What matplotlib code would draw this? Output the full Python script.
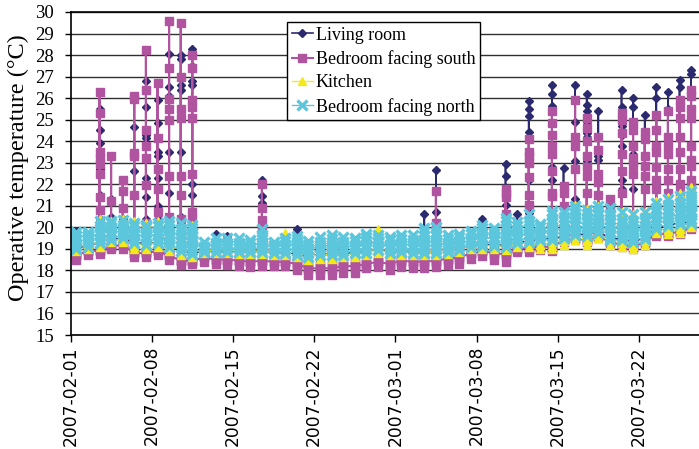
import matplotlib
matplotlib.use('Agg')
import matplotlib.pyplot as plt
import pandas as pd

# one list per day (2007-02-01 ... 2007-03-26), values in degC
living = [
    [19.05, 18.95, 19.3, 19.85, 19.05],
    [19.15, 19.05, 19.4, 19.15],
    [19.3, 19.2, 19.5, 20.4, 21.5, 22.7, 23.9, 24.5, 25.5, 19.3],
    [19.45, 19.35, 19.7, 20.5, 21.3, 19.45],
    [19.5, 19.45, 19.8, 20.4, 19.5],
    [19.3, 19.2, 19.5, 22.6, 24.65, 19.3],
    [19.25, 19.15, 19.5, 20.4, 21.4, 22.3, 24.15, 24.3, 25.6, 26.8, 19.25],
    [19.3, 19.2, 19.5, 20.4, 20.97, 22.3, 23.3, 23.5, 24.85, 25.9, 19.3],
    [19.15, 19.05, 19.4, 21.6, 23.5, 26.1, 26.5, 28.05, 19.15],
    [18.95, 18.85, 19.2, 20.5, 23.5, 26.4, 26.6, 27.8, 28.0, 18.95],
    [18.8, 18.7, 19.0, 21.5, 22.0, 26.6, 26.8, 27.5, 28.3, 18.8],
    [18.9, 18.8, 19.1, 18.9],
    [18.9, 18.8, 19.2, 19.67, 18.9],
    [18.9, 18.8, 19.2, 19.6, 18.9],
    [18.9, 18.8, 19.2, 18.9],
    [18.9, 18.8, 19.1, 18.9],
    [18.9, 18.8, 19.3, 21.15, 21.45, 22.2, 18.9],
    [18.85, 18.75, 19.1, 18.85],
    [18.85, 18.75, 19.2, 18.85],
    [18.75, 18.65, 19.1, 19.75, 19.9, 18.75],
    [18.65, 18.55, 19.0, 18.65],
    [18.75, 18.65, 19.1, 18.75],
    [18.75, 18.65, 19.2, 18.75],
    [18.75, 18.65, 19.1, 18.75],
    [18.85, 18.75, 19.1, 18.85],
    [18.85, 18.75, 19.2, 18.85],
    [19.0, 18.9, 19.2, 19.0],
    [18.85, 18.75, 19.1, 18.85],
    [18.9, 18.8, 19.2, 18.9],
    [18.85, 18.75, 19.2, 18.85],
    [18.85, 18.75, 19.3, 20.6, 18.85],
    [18.85, 18.75, 19.3, 20.7, 22.67, 18.85],
    [18.9, 18.8, 19.2, 18.9],
    [19.0, 18.9, 19.3, 19.0],
    [19.15, 19.05, 19.4, 19.15],
    [19.2, 19.1, 19.5, 20.4, 19.2],
    [19.2, 19.1, 19.5, 19.2],
    [19.15, 19.05, 19.5, 21.05, 22.4, 22.95, 19.15],
    [19.3, 19.2, 19.6, 20.6, 19.3],
    [19.35, 19.25, 19.7, 20.65, 21.5, 22.2, 24.45, 25.15, 25.5, 25.85, 19.35],
    [19.45, 19.35, 19.7, 19.45],
    [19.5, 19.4, 19.8, 22.2, 22.8, 25.65, 26.2, 26.6, 19.5],
    [19.55, 19.45, 19.9, 22.75, 19.55],
    [19.7, 19.6, 20.0, 21.3, 23.1, 24.9, 26.6, 19.7],
    [19.65, 19.55, 19.9, 23.1, 24.2, 24.4, 24.9, 25.4, 25.7, 26.2, 19.65],
    [19.8, 19.7, 20.1, 23.15, 23.3, 23.5, 25.4, 19.8],
    [19.5, 19.4, 19.8, 21.1, 19.5],
    [19.45, 19.35, 19.8, 21.8, 22.2, 23.8, 24.3, 24.7, 25.6, 26.4, 19.45],
    [19.35, 19.25, 19.7, 21.8, 22.5, 22.85, 23.4, 25.6, 26.0, 19.35],
    [19.5, 19.4, 19.8, 21.8, 25.2, 19.5],
    [19.95, 19.85, 20.2, 22.0, 26.0, 26.5, 19.95],
    [20.1, 20.0, 20.4, 23.4, 25.5, 26.3, 20.1],
    [20.2, 20.1, 20.5, 22.7, 26.5, 26.85, 20.2],
    [20.25, 20.15, 20.6, 26.2, 27.1, 27.3, 20.25],
]

south = [
    [18.7, 18.5, 18.7, 18.85, 18.7],
    [18.9, 18.7, 18.9, 19.1, 18.9],
    [18.9, 18.75, 18.95, 19.2, 20.8, 21.4, 22.5, 22.95, 23.2, 23.5, 25.3, 26.3, 18.9],
    [19.1, 19.0, 19.15, 19.3, 21.2, 23.3, 19.1],
    [19.2, 19.0, 19.2, 19.4, 20.9, 21.7, 22.2, 19.2],
    [18.8, 18.6, 18.8, 19.0, 21.5, 23.3, 23.45, 25.95, 26.1, 18.8],
    [18.8, 18.6, 18.8, 18.95, 20.2, 21.95, 23.2, 23.8, 24.5, 26.4, 28.25, 18.8],
    [18.9, 18.7, 18.9, 19.15, 20.7, 21.8, 22.7, 24.15, 26.7, 18.9],
    [18.7, 18.5, 18.7, 18.85, 20.5, 22.4, 25.0, 25.5, 25.95, 27.4, 29.6, 18.7],
    [18.45, 18.25, 18.45, 18.65, 20.4, 21.5, 22.4, 25.1, 25.5, 27.0, 29.5, 18.45],
    [18.45, 18.3, 18.45, 18.6, 20.4, 20.7, 22.5, 25.1, 25.6, 25.9, 27.4, 28.0, 18.45],
    [18.6, 18.4, 18.6, 18.85, 18.6],
    [18.5, 18.3, 18.5, 18.7, 18.5],
    [18.5, 18.25, 18.45, 18.7, 18.5],
    [18.45, 18.2, 18.45, 18.7, 18.45],
    [18.4, 18.15, 18.4, 18.65, 18.4],
    [18.45, 18.2, 18.45, 18.7, 19.97, 20.35, 20.9, 22.0, 18.45],
    [18.4, 18.2, 18.4, 18.65, 18.4],
    [18.4, 18.2, 18.4, 18.65, 18.4],
    [18.3, 18.0, 18.2, 18.4, 18.6, 18.3],
    [18.1, 17.8, 18.0, 18.2, 18.5, 18.1],
    [18.1, 17.8, 18.0, 18.2, 18.4, 18.1],
    [18.1, 17.8, 18.0, 18.2, 18.5, 18.1],
    [18.2, 17.9, 18.1, 18.3, 18.5, 18.2],
    [18.2, 17.9, 18.1, 18.3, 18.5, 18.2],
    [18.3, 18.1, 18.3, 18.55, 18.3],
    [18.4, 18.15, 18.4, 18.6, 18.4],
    [18.3, 18.0, 18.2, 18.45, 18.65, 18.3],
    [18.45, 18.15, 18.35, 18.55, 18.8, 18.45],
    [18.4, 18.1, 18.3, 18.5, 18.7, 18.4],
    [18.4, 18.1, 18.3, 18.5, 18.7, 18.4],
    [18.45, 18.15, 18.35, 18.55, 18.8, 20.2, 21.7, 18.45],
    [18.55, 18.25, 18.45, 18.65, 18.85, 18.55],
    [18.6, 18.3, 18.5, 18.7, 18.95, 18.6],
    [18.8, 18.55, 18.75, 19.0, 18.8],
    [18.9, 18.65, 18.85, 19.15, 18.9],
    [18.8, 18.5, 18.7, 18.9, 19.1, 18.8],
    [18.75, 18.4, 18.6, 18.8, 19.1, 20.6, 21.4, 21.6, 21.8, 18.75],
    [19.0, 18.85, 19.0, 19.15, 19.0],
    [19.05, 18.85, 19.05, 19.3, 21.05, 21.5, 22.35, 23.0, 23.3, 23.5, 24.1, 19.05],
    [19.1, 18.95, 19.1, 19.25, 19.1],
    [19.1, 18.9, 19.05, 19.2, 21.45, 21.6, 22.6, 23.4, 23.8, 24.3, 24.85, 25.4, 19.1],
    [19.4, 19.3, 19.45, 21.0, 21.6, 21.9, 19.4],
    [19.5, 19.4, 19.55, 22.7, 23.8, 24.2, 25.9, 19.5],
    [19.4, 19.3, 19.45, 21.6, 22.4, 22.8, 23.3, 24.0, 24.6, 25.1, 19.4],
    [19.6, 19.5, 19.65, 21.5, 22.1, 22.5, 23.6, 24.2, 19.6],
    [19.3, 19.2, 19.35, 20.5, 21.0, 21.3, 19.3],
    [19.2, 19.1, 19.25, 21.6, 22.6, 23.4, 24.4, 25.0, 25.3, 19.2],
    [19.1, 19.0, 19.15, 22.5, 22.9, 23.2, 23.8, 24.5, 24.9, 19.1],
    [19.3, 19.2, 19.35, 21.8, 22.4, 22.85, 23.3, 24.1, 24.45, 19.3],
    [19.7, 19.6, 19.75, 21.8, 22.2, 22.8, 23.5, 23.8, 24.5, 25.2, 19.7],
    [19.7, 19.6, 19.75, 21.6, 22.2, 22.7, 23.4, 23.8, 24.2, 25.4, 19.7],
    [19.8, 19.7, 19.85, 21.6, 22.0, 22.7, 23.5, 24.2, 25.1, 25.6, 25.9, 19.8],
    [20.0, 19.9, 20.05, 21.9, 22.2, 22.85, 23.15, 23.8, 25.1, 25.5, 26.1, 26.4, 20.0],
]

kitchen = [
    [19.1, 18.9, 19.05, 19.2, 19.3, 19.1],
    [19.2, 19.0, 19.15, 19.3, 19.4, 19.2],
    [19.3, 19.1, 19.25, 19.4, 20.1, 20.4, 19.3],
    [19.4, 19.3, 19.45, 19.6, 20.3, 19.4],
    [19.4, 19.3, 19.45, 19.6, 20.4, 19.4],
    [19.2, 19.0, 19.15, 19.3, 20.3, 19.2],
    [19.2, 19.0, 19.15, 19.3, 20.2, 19.2],
    [19.3, 19.1, 19.25, 19.4, 20.3, 19.3],
    [19.1, 18.9, 19.05, 19.2, 20.0, 20.15, 19.1],
    [19.0, 18.7, 18.85, 19.0, 19.95, 20.1, 19.0],
    [18.9, 18.6, 18.75, 18.9, 19.9, 20.1, 18.9],
    [18.9, 18.8, 18.9, 19.0, 18.9],
    [18.95, 18.8, 18.95, 19.1, 18.95],
    [18.95, 18.8, 18.95, 19.1, 18.95],
    [18.9, 18.75, 18.9, 19.1, 18.9],
    [18.9, 18.75, 18.9, 19.0, 18.9],
    [18.9, 18.75, 18.9, 19.05, 19.5, 18.9],
    [18.85, 18.7, 18.85, 19.0, 18.85],
    [18.9, 18.7, 18.85, 19.0, 19.75, 18.9],
    [18.8, 18.6, 18.75, 18.9, 19.3, 18.8],
    [18.7, 18.5, 18.65, 18.8, 18.9, 18.7],
    [18.7, 18.55, 18.7, 18.85, 19.0, 18.7],
    [18.75, 18.55, 18.7, 18.85, 19.1, 18.75],
    [18.75, 18.6, 18.75, 18.9, 19.1, 18.75],
    [18.75, 18.6, 18.75, 18.9, 19.0, 18.75],
    [18.85, 18.7, 18.85, 19.0, 19.2, 18.85],
    [18.95, 18.8, 18.95, 19.1, 19.9, 18.95],
    [18.85, 18.7, 18.85, 19.0, 19.1, 18.85],
    [18.85, 18.7, 18.85, 19.0, 19.2, 18.85],
    [18.85, 18.7, 18.85, 19.0, 19.2, 18.85],
    [18.85, 18.7, 18.85, 19.0, 19.4, 18.85],
    [18.85, 18.7, 18.85, 19.0, 19.5, 18.85],
    [18.9, 18.75, 18.9, 19.05, 19.2, 18.9],
    [19.0, 18.85, 19.0, 19.15, 19.3, 19.0],
    [19.15, 19.0, 19.15, 19.3, 19.4, 19.15],
    [19.15, 19.0, 19.15, 19.3, 19.6, 19.15],
    [19.15, 19.0, 19.15, 19.3, 19.5, 19.15],
    [19.1, 18.95, 19.1, 19.25, 20.0, 19.1],
    [19.25, 19.1, 19.25, 19.4, 19.8, 19.25],
    [19.25, 19.1, 19.25, 19.4, 20.2, 19.25],
    [19.2, 19.0, 19.2, 19.35, 19.55, 19.2],
    [19.3, 19.0, 19.15, 19.3, 19.45, 20.6, 19.3],
    [19.4, 19.2, 19.35, 19.5, 20.5, 19.4],
    [19.6, 19.4, 19.55, 19.7, 21.05, 19.6],
    [19.4, 19.2, 19.35, 19.5, 20.85, 19.4],
    [19.65, 19.5, 19.65, 19.8, 21.0, 19.65],
    [19.4, 19.2, 19.35, 19.5, 20.8, 19.4],
    [19.3, 19.1, 19.25, 19.4, 20.7, 19.3],
    [19.2, 19.0, 19.15, 19.3, 20.6, 19.2],
    [19.4, 19.2, 19.35, 19.5, 20.7, 19.4],
    [19.9, 19.75, 19.9, 20.05, 21.2, 19.9],
    [19.9, 19.7, 19.85, 20.0, 21.4, 19.9],
    [19.9, 19.75, 19.9, 20.05, 21.6, 19.9],
    [20.15, 20.0, 20.15, 20.3, 21.85, 20.15],
]

north = [
    [19.6, 19.0, 19.2, 19.4, 19.6, 19.8, 19.6],
    [19.6, 19.1, 19.3, 19.5, 19.7, 19.8, 19.6],
    [19.7, 19.25, 19.45, 19.65, 19.85, 20.05, 20.3, 19.8],
    [19.8, 19.4, 19.6, 19.8, 20.0, 20.2, 20.3, 19.8],
    [19.8, 19.5, 19.7, 19.9, 20.1, 20.35, 19.8],
    [19.7, 19.25, 19.45, 19.65, 19.85, 20.05, 20.2, 19.7],
    [19.6, 19.2, 19.4, 19.6, 19.8, 20.0, 20.1, 19.6],
    [19.7, 19.25, 19.45, 19.65, 19.85, 20.05, 20.2, 19.7],
    [19.6, 19.1, 19.3, 19.5, 19.7, 19.9, 20.1, 20.3, 19.6],
    [19.5, 18.9, 19.1, 19.3, 19.5, 19.7, 19.9, 20.2, 19.5],
    [19.4, 18.75, 18.95, 19.15, 19.35, 19.55, 19.75, 19.95, 20.1, 19.3],
    [19.1, 18.85, 19.05, 19.3, 19.1],
    [19.2, 18.85, 19.05, 19.25, 19.5, 19.2],
    [19.2, 18.85, 19.05, 19.25, 19.5, 19.2],
    [19.2, 18.85, 19.05, 19.25, 19.5, 19.2],
    [19.1, 18.85, 19.05, 19.25, 19.4, 19.1],
    [19.3, 18.85, 19.05, 19.25, 19.45, 19.65, 19.9, 19.2],
    [19.1, 18.8, 19.0, 19.2, 19.3, 19.1],
    [19.2, 18.8, 19.0, 19.2, 19.35, 19.5, 19.2],
    [19.2, 18.7, 18.9, 19.1, 19.3, 19.45, 19.6, 19.1],
    [19.0, 18.6, 18.8, 19.0, 19.2, 19.35, 19.0],
    [19.1, 18.7, 18.9, 19.1, 19.3, 19.55, 19.1],
    [19.2, 18.7, 18.9, 19.1, 19.3, 19.45, 19.65, 19.2],
    [19.1, 18.7, 18.9, 19.1, 19.3, 19.55, 19.1],
    [19.1, 18.8, 19.0, 19.2, 19.35, 19.5, 19.1],
    [19.2, 18.8, 19.0, 19.2, 19.4, 19.55, 19.7, 19.2],
    [19.3, 18.95, 19.15, 19.35, 19.5, 19.65, 19.3],
    [19.1, 18.8, 19.0, 19.2, 19.4, 19.55, 19.1],
    [19.2, 18.85, 19.05, 19.25, 19.45, 19.65, 19.2],
    [19.2, 18.8, 19.0, 19.2, 19.4, 19.65, 19.2],
    [19.3, 18.8, 19.0, 19.2, 19.4, 19.6, 19.8, 19.95, 19.3],
    [19.3, 18.8, 19.0, 19.2, 19.4, 19.6, 19.8, 20.0, 19.3],
    [19.2, 18.85, 19.05, 19.25, 19.45, 19.65, 19.2],
    [19.3, 18.95, 19.15, 19.35, 19.55, 19.7, 19.3],
    [19.4, 19.1, 19.3, 19.5, 19.7, 19.85, 19.4],
    [19.5, 19.15, 19.35, 19.55, 19.75, 19.95, 20.1, 19.5],
    [19.5, 19.15, 19.35, 19.55, 19.75, 19.95, 19.5],
    [19.6, 19.1, 19.3, 19.5, 19.7, 19.9, 20.1, 20.3, 20.45, 19.6],
    [19.6, 19.25, 19.45, 19.65, 19.85, 20.05, 20.25, 19.6],
    [19.7, 19.3, 19.5, 19.7, 19.9, 20.1, 20.3, 20.6, 19.7],
    [19.7, 19.4, 19.6, 19.8, 20.0, 20.15, 19.7],
    [19.9, 19.4, 19.6, 19.8, 20.0, 20.2, 20.4, 20.6, 20.75, 19.9],
    [19.9, 19.5, 19.7, 19.9, 20.1, 20.3, 20.5, 20.7, 19.9],
    [20.1, 19.65, 19.85, 20.05, 20.25, 20.45, 20.65, 20.85, 21.0, 20.1],
    [20.0, 19.6, 19.8, 20.0, 20.2, 20.4, 20.6, 20.8, 20.0],
    [20.1, 19.75, 19.95, 20.15, 20.35, 20.55, 20.75, 21.0, 20.1],
    [20.0, 19.4, 19.6, 19.8, 20.0, 20.2, 20.4, 20.6, 20.9, 20.0],
    [19.9, 19.4, 19.6, 19.8, 20.0, 20.2, 20.4, 20.7, 19.9],
    [19.8, 19.3, 19.5, 19.7, 19.9, 20.1, 20.3, 20.6, 19.8],
    [19.9, 19.45, 19.65, 19.85, 20.05, 20.25, 20.45, 20.7, 19.9],
    [20.3, 19.9, 20.1, 20.3, 20.5, 20.7, 20.9, 21.15, 20.3],
    [20.5, 20.05, 20.25, 20.45, 20.65, 20.85, 21.05, 21.3, 20.5],
    [20.6, 20.15, 20.35, 20.55, 20.75, 20.95, 21.15, 21.45, 20.6],
    [20.7, 20.2, 20.4, 20.6, 20.8, 21.0, 21.2, 21.45, 21.7, 20.7],
]

tick_labels = ['2007-02-01', '2007-02-08', '2007-02-15', '2007-02-22',
               '2007-03-01', '2007-03-08', '2007-03-15', '2007-03-22']

# every reading of a day sits on that day's date (date axis, one slot per day)
days = pd.date_range('2007-02-01 12:00', periods=len(living), freq='D')


def flatten(series):
    xs, ys = [], []
    for d, vals in zip(days, series):
        xs += [d] * len(vals)
        ys += vals
    return xs, ys


serif = 'Liberation Serif'

fig = plt.figure(figsize=(6.99, 4.49), dpi=100)
ax = fig.add_axes([70.5 / 699, 1 - 335 / 449, 1 - 70.5 / 699, 323 / 449])

x, y = flatten(living)
ax.plot(x, y, color='#2b2a6e', lw=1.2, marker='D', ms=3.8, label='Living room')
x, y = flatten(south)
ax.plot(x, y, color='#b0549f', lw=1.5, marker='s', ms=5.8, label='Bedroom facing south')
x, y = flatten(kitchen)
ax.plot(x, y, color='#f2ea1c', lw=1.0, marker='^', ms=6, label='Kitchen')
x, y = flatten(north)
ax.plot(x, y, color='#5bc6dc', lw=1.0, marker='x', ms=7, mew=2.4, label='Bedroom facing north')

ax.set_ylim(15, 30)
ax.set_yticks(range(15, 31))
ax.set_xlim(pd.Timestamp('2007-02-01'), pd.Timestamp('2007-02-01') + pd.Timedelta(days=54.18))
ax.set_xticks(pd.to_datetime(tick_labels))
ax.set_xticklabels(tick_labels, rotation=90, fontsize=12.3, family='DejaVu Sans')
for lab in ax.get_yticklabels():
    lab.set_family(serif)
    lab.set_fontsize(13.5)

ax.yaxis.grid(True, color='#303030', lw=1)
ax.set_axisbelow(True)
ax.spines['right'].set_visible(False)
for s in ['left', 'bottom', 'top']:
    ax.spines[s].set_linewidth(1.2)
    ax.spines[s].set_color('black')
ax.tick_params(axis='x', length=5, width=1, pad=3)
ax.tick_params(axis='y', length=4, width=1, pad=8)

fig.text(18 / 699, 1 - 168 / 449, 'Operative temperature (\u00b0C)', rotation=90,
         ha='center', va='center', family=serif, fontsize=17.5)

leg = ax.legend(loc='upper left', bbox_to_anchor=(287 / 699, 1 - 22 / 449),
                bbox_transform=fig.transFigure, borderaxespad=0,
                prop={'family': serif, 'size': 13}, frameon=True, fancybox=False,
                framealpha=1, edgecolor='black', handlelength=1.2,
                handletextpad=0.15, labelspacing=0.36, borderpad=0.25)
leg.get_frame().set_linewidth(1)

fig.savefig('out.png', dpi=100)
